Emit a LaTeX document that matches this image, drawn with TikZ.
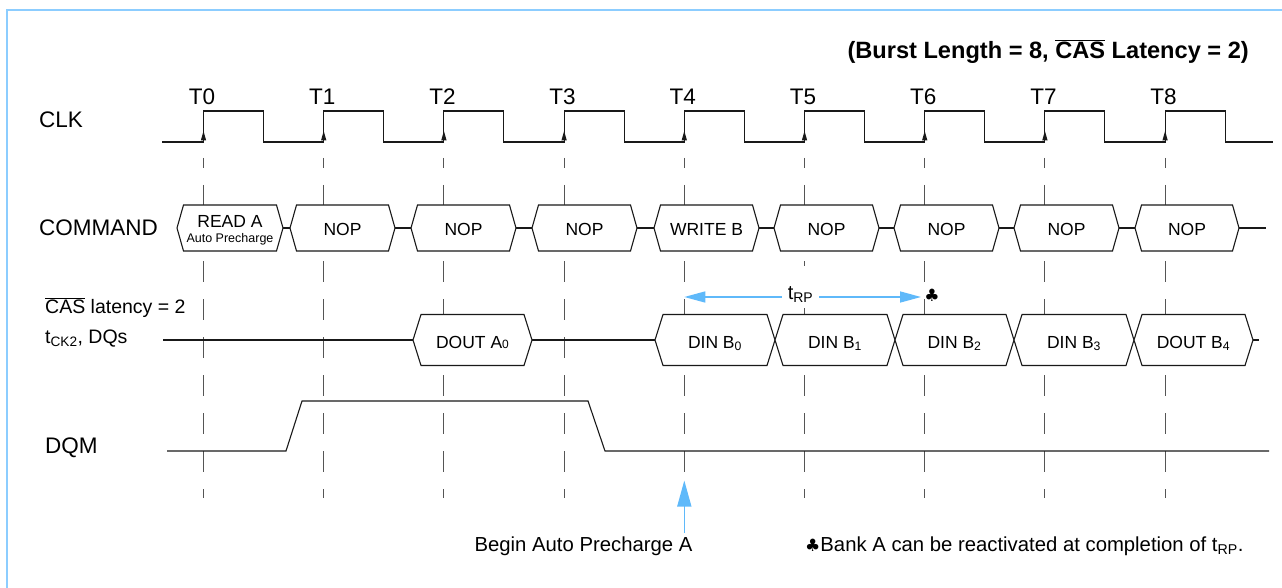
\documentclass[tikz,border=0pt]{standalone}
\usepackage{fontspec}
\setmainfont{Liberation Sans}
\newfontfamily\symfont{DejaVu Sans}
\usetikzlibrary{arrows.meta}
\definecolor{framebl}{RGB}{140,205,255}
\definecolor{arrbl}{RGB}{95,185,250}
\definecolor{dashgr}{RGB}{85,85,85}
\definecolor{ink}{RGB}{25,25,25}
\newcommand\fs[1]{\fontsize{#1}{#1}\selectfont}
\newcommand\cmdhex[4]{%
  \draw[sig,fill=white] (#1,228) -- ({#1+6.5},205) -- ({#2-6.5},205) -- (#2,228)
    -- ({#2-6.5},251) -- ({#1+6.5},251) -- cycle;
  \node[btxt] (#3) at ({(#1+#2)/2},235) {#4};}
\newcommand\dqhex[4]{%
  \draw[sig,fill=white] (#1,340) -- ({#1+8},314.5) -- ({#2-8},314.5) -- (#2,340)
    -- ({#2-8},365.5) -- ({#1+8},365.5) -- cycle;
  \node[btxt] (#3) at ({(#1+#2)/2},348.3) {#4};}
\begin{document}
\begin{tikzpicture}[x=1pt,y=-1pt,
  sig/.style={draw=ink,line width=1.1pt},
  gridln/.style={draw=dashgr,line width=1pt,dash pattern=on 21pt off 17pt,dash phase=11pt},
  lbl/.style={anchor=base west,inner sep=0pt,font=\fs{22.5}},
  lblsm/.style={anchor=base west,inner sep=0pt,font=\fs{19.5}},
  tlab/.style={anchor=base,inner sep=0pt,font=\fs{22.5}},
  btxt/.style={anchor=base,inner sep=0pt,font=\fs{17.5}},
  note/.style={inner sep=0pt,font=\fs{20.3}},
  barrow/.style={draw=arrbl,line width=1.5pt}
]
\useasboundingbox (0,0) rectangle (1282,588);
% frame
\draw[framebl,line width=1.6pt] (7,590) -- (7,10) -- (1284,10);
% title
\node[anchor=base east,inner sep=0pt,font=\bfseries\fs{23.6}] (title) at (1249,58.3)
  {(Burst Length = 8, $\overline{\mbox{CAS}}$ Latency = 2)};
% row labels
\node[lbl] (clk) at (39,127.5) {CLK};
\node[lbl] (cmd) at (39,235) {COMMAND};
\node[lblsm] (cas) at (45,313.3) {$\overline{\mbox{CAS}}$ latency = 2};
\node[lblsm] (tck) at (45,343.3) {t\textsubscript{CK2}, DQs};
\node[lbl] (dqm) at (45,453.3) {DQM};
% dashed time lines and T labels
\foreach \k in {0,...,8}{
  \pgfmathsetmacro\tx{203.5+120.2*\k}
  \draw[gridln] (\tx,158) -- (\tx,498);
  \node[tlab] (T\k) at ({\tx-1.5},104.5) {T\k};
}
% clock
\draw[sig] (162,142) \foreach \k in {0,...,8}{
  -- ({203.5+120.2*\k},142) -- ++(0,-31) -- ++(60,0) -- ++(0,31)} -- (1273,142);
\foreach \k in {0,...,8}{
  \pgfmathsetmacro\tx{203.5+120.2*\k}
  \fill[ink] (\tx,131) -- ({\tx-2.7},140.5) -- ({\tx+2.7},140.5) -- cycle;
}
% command bus
\draw[sig] (177,228) -- (1266,228);
\cmdhex{177}{283}{c0}{}
\node[btxt] (c0a) at (230,227.7) {READ A};
\node[anchor=base,inner sep=0pt,font=\fs{12.5}] (c0b) at (230,242.3) {Auto Precharge};
\cmdhex{290}{395}{c1}{NOP}
\cmdhex{411}{516}{c2}{NOP}
\cmdhex{532}{637}{c3}{NOP}
\cmdhex{654}{759}{c4}{WRITE B}
\cmdhex{774}{879}{c5}{NOP}
\cmdhex{894}{999}{c6}{NOP}
\cmdhex{1014}{1119}{c7}{NOP}
\cmdhex{1135}{1239}{c8}{NOP}
% tRP arrow
\coordinate (rpa) at (684.3,297);
\coordinate (rpb) at (921,297);
\draw[barrow,{Triangle[length=21pt,width=11pt]}-{Triangle[length=21pt,width=11pt]}] (rpa) -- (rpb);
\fill[white] (782,266) rectangle (819,308);
\node[anchor=base,inner sep=0pt,font=\fs{20}] (trp) at (800.5,299.5) {t\textsubscript{RP}};
\node[inner sep=0pt,font=\symfont\fs{17}] (club) at (932,295.5) {♣};
% DQ bus
\draw[sig] (163,340) -- (1259,340);
\dqhex{413}{532}{d0}{DOUT A{\fs{12}0}}
\dqhex{655}{775}{d1}{DIN B\textsubscript{0}}
\dqhex{775}{895}{d2}{DIN B\textsubscript{1}}
\dqhex{895}{1014}{d3}{DIN B\textsubscript{2}}
\dqhex{1014}{1134}{d4}{DIN B\textsubscript{3}}
\dqhex{1134}{1253}{d5}{DOUT B\textsubscript{4}}
% DQM
\draw[sig] (167,451) -- (286,451) -- (302,401) -- (588,401) -- (605,451) -- (1269,451);
% begin auto precharge arrow
\node[note,anchor=base] (bap) at (583.5,551) {Begin Auto Precharge A};
\coordinate (apb) at (684.3,533);
\coordinate (apt) at (684.3,480.5);
\draw[barrow,-{Triangle[length=26pt,width=14pt]}] (apb) -- (apt);
\node[note,anchor=base west] (bank) at (805,551)
  {{\symfont\fs{17}♣}Bank A can be reactivated at completion of t\textsubscript{RP}.};
\end{tikzpicture}
\end{document}
